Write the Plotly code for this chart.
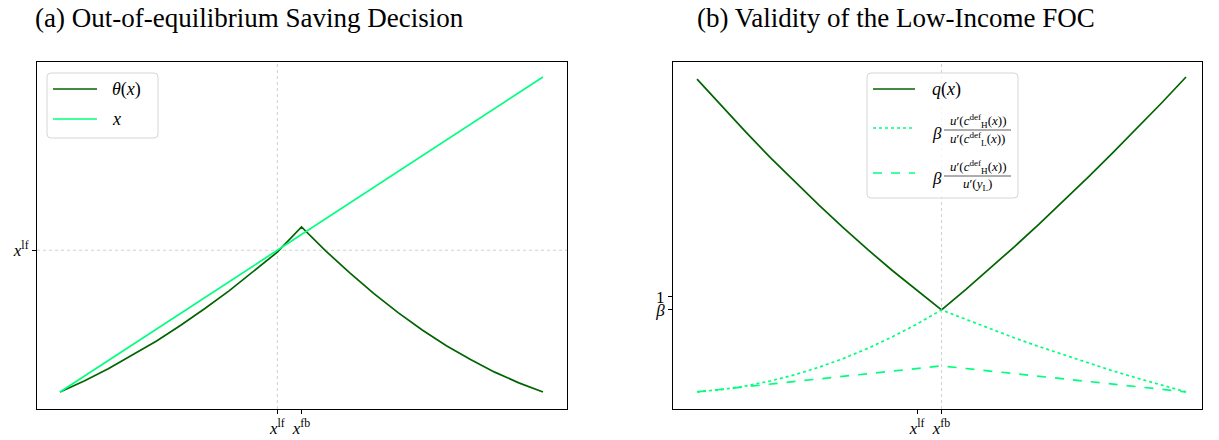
import plotly.graph_objects as go

W, H = 1219, 440

# ---------------- data ----------------
x_grid = [0.00, 0.05, 0.10, 0.15, 0.20, 0.25, 0.30, 0.35, 0.40, 0.45, 0.50,
          0.55, 0.60, 0.65, 0.70, 0.75, 0.80, 0.85, 0.90, 0.95, 1.00]
theta_vals = [0.000, 0.035, 0.074, 0.117, 0.162, 0.212, 0.265, 0.321, 0.381, 0.444, 0.524,
              0.448, 0.378, 0.312, 0.252, 0.197, 0.147, 0.103, 0.063, 0.029, 0.000]
q_vals = [1.838, 1.734, 1.634, 1.536, 1.442, 1.352, 1.265, 1.181, 1.101, 1.024, 0.950,
          1.029, 1.111, 1.195, 1.281, 1.370, 1.461, 1.554, 1.649, 1.746, 1.846]
ratio_cons = [0.635, 0.644, 0.658, 0.677, 0.701, 0.730, 0.764, 0.803, 0.847, 0.896, 0.950,
              0.913, 0.877, 0.842, 0.809, 0.777, 0.746, 0.716, 0.688, 0.661, 0.635]
ratio_inc = [0.635, 0.645, 0.655, 0.665, 0.675, 0.685, 0.695, 0.705, 0.715, 0.725, 0.735,
             0.725, 0.715, 0.705, 0.695, 0.685, 0.675, 0.665, 0.655, 0.645, 0.635]
X_LF = 0.45
X_FB = 0.50
BETA = 0.95
ONE = 1.0

x_ticks = [X_LF, X_FB]
x_ticklabels = ["<i>x</i><sup>lf</sup>", "<i>x</i><sup>fb</sup>"]
ya_ticks = [X_LF]
ya_ticklabels = ["<i>x</i><sup>lf</sup>"]
yb_ticks = [BETA, ONE]
yb_ticklabels = ["<i>β</i>", "1"]

titles = ["(a) Out-of-equilibrium Saving Decision", "(b) Validity of the Low-Income FOC"]

DARK = "#006400"
LIGHT = "#00ff7f"
FONT = "Liberation Serif"
LW = 1.7


def px(x):
    return x / W


def py(y):
    return 1 - y / H


fig = go.Figure()

# panel (a)
fig.add_trace(go.Scatter(x=x_grid, y=theta_vals, mode="lines", name="θ(x)",
                         line=dict(color=DARK, width=LW), xaxis="x", yaxis="y", showlegend=False))
fig.add_trace(go.Scatter(x=x_grid, y=x_grid, mode="lines", name="x",
                         line=dict(color=LIGHT, width=LW), xaxis="x", yaxis="y", showlegend=False))
# panel (b)
fig.add_trace(go.Scatter(x=x_grid, y=q_vals, mode="lines", name="q(x)",
                         line=dict(color=DARK, width=LW), xaxis="x2", yaxis="y2", showlegend=False))
fig.add_trace(go.Scatter(x=x_grid, y=ratio_cons, mode="lines", name="ratio c",
                         line=dict(color=LIGHT, width=LW, dash="dot"), xaxis="x2", yaxis="y2", showlegend=False))
fig.add_trace(go.Scatter(x=x_grid, y=ratio_inc, mode="lines", name="ratio y",
                         line=dict(color=LIGHT, width=LW, dash="dash"), xaxis="x2", yaxis="y2", showlegend=False))

axbase = dict(showgrid=False, zeroline=False, showline=True, linecolor="black", linewidth=1,
              mirror=True, ticks="outside", ticklen=4, tickcolor="black", tickwidth=1,
              tickfont=dict(family=FONT, size=17, color="black"))

fig.update_layout(
    width=W, height=H, margin=dict(l=0, r=0, t=0, b=0),
    paper_bgcolor="white", plot_bgcolor="white",
    xaxis=dict(axbase, domain=[px(37), px(567)], range=[-0.0476, 1.0497],
               tickvals=x_ticks, ticktext=x_ticklabels, anchor="y"),
    yaxis=dict(axbase, domain=[py(409), py(62)], range=[-0.054, 1.0476],
               tickvals=ya_ticks, ticktext=ya_ticklabels, anchor="x"),
    xaxis2=dict(axbase, domain=[px(673), px(1202)], range=[-0.0491, 1.0327],
                tickvals=x_ticks, ticktext=x_ticklabels, anchor="y2"),
    yaxis2=dict(axbase, domain=[py(409), py(62)], range=[0.5692, 1.9038],
                tickvals=yb_ticks, ticktext=yb_ticklabels, anchor="x2"),
)

shapes = []
grid_style = dict(color="#bbbbbb", width=0.7, dash="dot")
shapes.append(dict(type="line", xref="x", yref="paper", x0=X_LF, x1=X_LF,
                   y0=py(409), y1=py(62), line=grid_style, layer="below"))
shapes.append(dict(type="line", xref="paper", yref="y", x0=px(37), x1=px(567),
                   y0=X_LF, y1=X_LF, line=grid_style, layer="below"))
shapes.append(dict(type="line", xref="x2", yref="paper", x0=X_FB, x1=X_FB,
                   y0=py(409), y1=py(62), line=grid_style, layer="below"))


def rounded_box(x0, y0, x1, y1, r=4):
    pts = (f"M {px(x0 + r)},{py(y0)} L {px(x1 - r)},{py(y0)} "
           f"Q {px(x1)},{py(y0)} {px(x1)},{py(y0 + r)} "
           f"L {px(x1)},{py(y1 - r)} Q {px(x1)},{py(y1)} {px(x1 - r)},{py(y1)} "
           f"L {px(x0 + r)},{py(y1)} Q {px(x0)},{py(y1)} {px(x0)},{py(y1 - r)} "
           f"L {px(x0)},{py(y0 + r)} Q {px(x0)},{py(y0)} {px(x0 + r)},{py(y0)} Z")
    return dict(type="path", xref="paper", yref="paper", path=pts,
                fillcolor="rgba(255,255,255,0.8)", line=dict(color="#d6d6d6", width=1), layer="above")


def leg_line(x0, x1, y, color, dash="solid"):
    return dict(type="line", xref="paper", yref="paper", x0=px(x0), x1=px(x1), y0=py(y), y1=py(y),
                line=dict(color=color, width=LW, dash=dash), layer="above")


# legend (a)
shapes.append(rounded_box(47, 73, 158, 138))
shapes.append(leg_line(53, 97, 89, DARK))
shapes.append(leg_line(53, 97, 119, LIGHT))
# legend (b)
shapes.append(rounded_box(867, 73, 1018, 198))
shapes.append(leg_line(873, 915, 89, DARK))
shapes.append(leg_line(873, 915, 128, LIGHT, "dot"))
shapes.append(leg_line(873, 915, 173, LIGHT, "dash"))
# fraction bars
shapes.append(dict(type="line", xref="paper", yref="paper", x0=px(944), x1=px(1011), y0=py(130), y1=py(130),
                   line=dict(color="#333", width=0.8), layer="above"))
shapes.append(dict(type="line", xref="paper", yref="paper", x0=px(944), x1=px(1011), y0=py(176), y1=py(176),
                   line=dict(color="#333", width=0.8), layer="above"))

fig.update_layout(shapes=shapes)

ann = []


def text(x, y, s, size=17, xanchor="left"):
    ann.append(dict(xref="paper", yref="paper", x=px(x), y=py(y), text=s, showarrow=False,
                    xanchor=xanchor, yanchor="middle", font=dict(family=FONT, size=size, color="black")))


text(33, 18, titles[0], size=27)
text(695, 18, titles[1], size=27)
text(110, 89, "<i>θ</i>(<i>x</i>)", size=18)
text(110, 119, "<i>x</i>", size=18)
text(930, 89, "<i>q</i>(<i>x</i>)", size=18)
text(930, 133, "<i>β</i>", size=17)
text(930, 178, "<i>β</i>", size=17)
num_H = "<i>u</i>′(<i>c</i><sup>def</sup><sub>H</sub>(<i>x</i>))"
den_L = "<i>u</i>′(<i>c</i><sup>def</sup><sub>L</sub>(<i>x</i>))"
den_y = "<i>u</i>′(<i>y</i><sub>L</sub>)"
text(977.5, 121, num_H, size=13, xanchor="center")
text(977.5, 139, den_L, size=13, xanchor="center")
text(977.5, 167, num_H, size=13, xanchor="center")
text(977.5, 185, den_y, size=13, xanchor="center")

fig.update_layout(annotations=ann)

fig.write_html("out.html")
